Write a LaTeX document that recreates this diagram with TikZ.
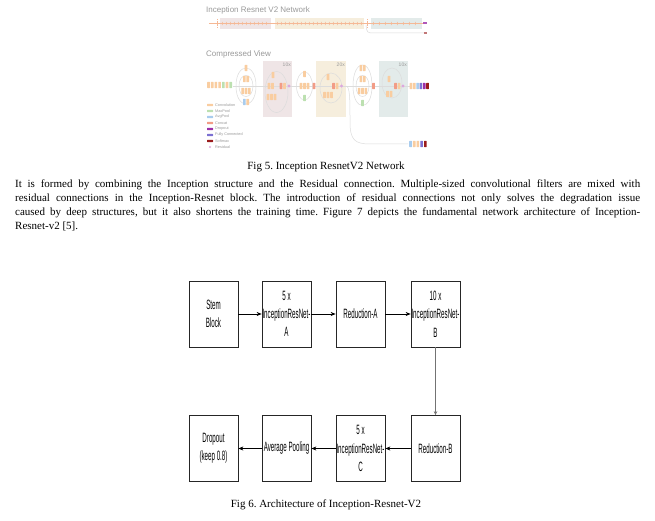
\documentclass[tikz,border=0pt]{standalone}
\usepackage{fontspec}
\setmainfont{Liberation Serif}
\newfontfamily\boxfont[FakeStretch=0.46]{Liberation Sans}
\newfontfamily\uifont{Liberation Sans}
\usetikzlibrary{arrows.meta}
\frenchspacing
\definecolor{conv}{HTML}{F9CDA0}
\definecolor{maxp}{HTML}{BCE0B0}
\definecolor{avgp}{HTML}{A8CCEE}
\definecolor{concat}{HTML}{F29C86}
\definecolor{dropc}{HTML}{9C2FA8}
\definecolor{fcc}{HTML}{7C70D2}
\definecolor{softc}{HTML}{9A1C1C}
\definecolor{resc}{HTML}{DDA8DD}
\definecolor{pinkbox}{HTML}{EFE5E6}
\definecolor{orangebox}{HTML}{F6EEDD}
\definecolor{tealbox}{HTML}{E3EBEA}
\definecolor{gline}{HTML}{DCDCDC}
\definecolor{lineorange}{HTML}{F5B895}
\definecolor{uigrey}{HTML}{9A9A9A}
\newcommand\cb[3]{\fill[#3,rounded corners=0.5pt] ({#1-1.3},{#2-3.2}) rectangle ({#1+1.3},{#2+3.2});}
\newcommand\rdot[2]{\fill[resc] (#1,#2) circle (1.7);}
\newcommand\legitem[3]{%
  \fill[#2,rounded corners=0.5pt] (207,{#1-1.2}) rectangle (213,{#1+1.2});
  \node[legtext] at (215,#1) {#3};}
\begin{document}
\begin{tikzpicture}[x=1pt,y=-1pt,
  fbox/.style={draw=black!85, line width=0.7pt, minimum width=49pt, minimum height=66pt,
    inner sep=0pt, align=center, font=\boxfont\fontsize{13.5}{18.3}\selectfont},
  arr/.style={-{Stealth[length=5pt,width=4pt]}, line width=0.7pt, black},
  varr/.style={-{Stealth[length=4pt,width=3.5pt]}, line width=0.6pt, black!55},
  uititle/.style={anchor=west, inner sep=0pt, text=uigrey, font=\uifont\fontsize{8}{9}\selectfont},
  legtext/.style={anchor=west, inner sep=0pt, text=uigrey, font=\uifont\fontsize{3.8}{4}\selectfont},
  rep/.style={anchor=north east, inner sep=0pt, text=uigrey, font=\uifont\fontsize{5}{6}\selectfont},
  gl/.style={draw=gline, line width=0.5pt},
  chev/.style={draw=lineorange, line width=0.4pt}]
\useasboundingbox (0,0) rectangle (655,521);
\fill[white] (0,0) rectangle (655,521);

% ---------- top strip ----------
\node[uititle] (t1) at (206,10) {Inception Resnet V2 Network};
\fill[pinkbox] (220,18) rectangle (271,29);
\fill[orangebox] (275,18) rectangle (364,29);
\fill[tealbox] (371,18) rectangle (422,29);
\draw[chev] (209,23.5) -- (423,23.5);
\foreach \x in {223,227,...,269} {\draw[chev] ({\x-1},21.8) -- (\x,23.5) -- ({\x-1},25.2);}
\foreach \x in {278,282,...,362} {\draw[chev] ({\x-1},21.8) -- (\x,23.5) -- ({\x-1},25.2);}
\foreach \x in {374,380,...,420} {\draw[chev] ({\x-1},21.8) -- (\x,23.5) -- ({\x-1},25.2);}
\draw[lineorange, densely dotted, line width=0.6pt] (217,19) -- (217,28);
\draw[lineorange, densely dotted, line width=0.6pt] (367,19) -- (367,28);
\fill[dropc!80] (423,22.5) rectangle (427,24.5);
\draw[gl] (366,25) .. controls (367,33) .. (375,33) -- (424,33);
\fill[softc!60] (424,32) rectangle (427,34);

% ---------- compressed view ----------
\node[uititle] (t2) at (206,54) {Compressed View};
\fill[pinkbox] (263,61) rectangle (292,117);
\fill[orangebox] (316,61) rectangle (346,117);
\fill[tealbox] (379,61) rectangle (408,117);
\node[rep] at (291,63) {10x};
\node[rep] at (345,63) {20x};
\node[rep] at (407,63) {10x};

\draw[gl] (233,86) -- (410,86);
% stem inception module
\draw[gl] (236,86) .. controls (236,62) and (256,62) .. (256,86) .. controls (256,110) and (236,110) .. (236,86);
\draw[gl] (239,86) .. controls (239,72) and (253,72) .. (253,86) .. controls (253,100) and (239,100) .. (239,86);
% loops in repeated blocks
\draw[gl] (276.5,92) ellipse (11.5 and 20.5);
\draw[gl] (304.5,86) ellipse (8 and 14);
\draw[gl] (331,88) ellipse (11 and 15);
\draw[gl] (353,86) .. controls (353,58) and (372,58) .. (372,86) .. controls (372,112) and (353,112) .. (353,86);
\draw[gl] (356,86) .. controls (356,72) and (369,72) .. (369,86) .. controls (369,100) and (356,100) .. (356,86);
\draw[gl] (392,83) ellipse (10 and 15);
% aux branch
\draw[gl] (346,86) .. controls (350,86) and (350,100) .. (350,122) .. controls (350,140) and (355,144) .. (370,144) -- (408,144);

% stem bars
\cb{208.5}{85}{conv}\cb{212.2}{85}{conv}\cb{215.9}{85}{conv}\cb{219.6}{85}{conv}
\cb{223.3}{85}{maxp}\cb{227}{85}{conv}\cb{230.7}{85}{maxp}
% stem inception
\cb{246}{68}{conv}
\cb{244.3}{79}{conv}\cb{247.7}{79}{conv}
\cb{242.6}{91}{conv}\cb{246}{91}{conv}\cb{249.4}{91}{conv}
\cb{244.3}{102}{avgp}\cb{247.7}{102}{conv}
% block A
\cb{273}{75}{conv}
\cb{269}{86}{conv}\cb{272.5}{86}{conv}\cb{281}{86}{concat}\cb{284.5}{86}{conv}\rdot{289}{86}
\cb{268}{97}{conv}\cb{271.5}{97}{conv}\cb{275}{97}{conv}
% reduction A
\cb{304.5}{74}{conv}
\cb{301}{86}{conv}\cb{304.5}{86}{conv}\cb{308}{86}{conv}
\cb{304.5}{98}{maxp}
\cb{314}{86}{concat}
% block B
\cb{328}{77}{conv}
\cb{333.5}{86}{concat}\cb{337}{86}{conv}\rdot{341.5}{86}
\cb{324.5}{95}{conv}\cb{328}{95}{conv}\cb{331.5}{95}{conv}
% reduction B
\cb{360.8}{68}{conv}\cb{364.2}{68}{conv}
\cb{360.8}{79}{conv}\cb{364.2}{79}{conv}
\cb{359.1}{91}{conv}\cb{362.5}{91}{conv}\cb{365.9}{91}{conv}
\cb{362.5}{103}{maxp}
\cb{373.5}{86}{concat}
% block C
\cb{389}{79}{conv}
\cb{395.5}{86}{concat}\cb{399}{86}{conv}\rdot{403}{86}
\cb{387.5}{94}{conv}\cb{391}{94}{conv}
% outputs
\cb{411}{86}{conv}\cb{414.3}{86}{conv}\cb{417.6}{86}{avgp}\cb{420.9}{86}{fcc}\cb{424.2}{86}{dropc}\cb{427.5}{86}{softc}
\cb{410.5}{144}{avgp}\cb{414.2}{144}{conv}\cb{417.9}{144}{conv}\cb{421.6}{144}{fcc}\cb{425.3}{144}{softc}

% legend
\legitem{105}{conv}{Convolution}
\legitem{111}{maxp}{MaxPool}
\legitem{117}{avgp}{AvgPool}
\legitem{123}{concat}{Concat}
\legitem{129}{dropc}{Dropout}
\legitem{135}{fcc}{Fully Connected}
\legitem{141}{softc}{Softmax}
\fill[resc] (210,147) circle (1.2);
\node[legtext] at (215,147) {Residual};

% ---------- captions and paragraph ----------
\node[font=\fontsize{11}{13}\selectfont, inner sep=0pt] (cap5) at (326,167) {Fig 5. Inception ResnetV2 Network};
\node[anchor=north west, inner sep=0pt, text width=625pt, align=justify,
  font=\fontsize{11}{13.7}\selectfont] (para) at (15,180)
  {It is formed by combining the Inception structure and the Residual connection. Multiple-sized convolutional filters are mixed with\linebreak
   residual connections in the Inception-Resnet block. The introduction of residual connections not only solves the degradation issue\linebreak
   caused by deep structures, but it also shortens the training time. Figure 7 depicts the fundamental network architecture of Inception-\linebreak
   Resnet-v2 [5].};

% ---------- architecture flowchart ----------
\node[fbox] (stem) at (213.5,314) {Stem\\Block};
\node[fbox] (ira) at (286.5,314) {5 x\\InceptionResNet-\\A};
\node[fbox] (reda) at (360.5,314) {Reduction-A};
\node[fbox] (irb) at (435.5,314) {10 x\\InceptionResNet-\\B};
\node[fbox] (redb) at (435.5,448.5) {Reduction-B};
\node[fbox] (irc) at (360.5,448.5) {5 x\\InceptionResNet-\\C};
\node[fbox] (avg) at (286.5,448.5) {Average Pooling};
\node[fbox] (drop) at (213.5,448.5) {Dropout\\(keep 0.8)};
\draw[arr] (stem) -- (ira);
\draw[arr] (ira) -- (reda);
\draw[arr] (reda) -- (irb);
\draw[varr] (irb) -- (redb);
\draw[arr] (redb) -- (irc);
\draw[arr] (irc) -- (avg);
\draw[arr] (avg) -- (drop);
\node[font=\fontsize{11}{13}\selectfont, inner sep=0pt] (cap6) at (326,505) {Fig 6. Architecture of Inception-Resnet-V2};
\end{tikzpicture}
\end{document}
